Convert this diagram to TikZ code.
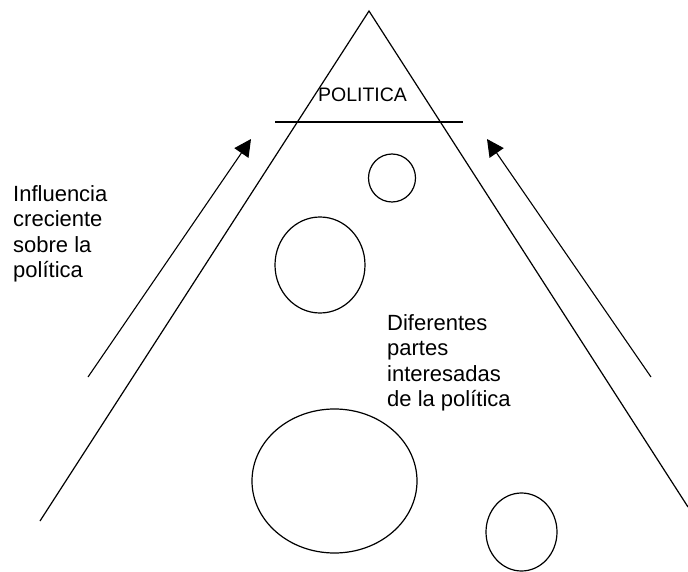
\documentclass[tikz,border=0pt]{standalone}
\usepackage{fontspec}
\setmainfont{Liberation Sans}
\usetikzlibrary{arrows.meta}
\begin{document}
\begin{tikzpicture}[x=1pt,y=-1pt,
  edge/.style={line width=1.2pt},
  blob/.style={draw,line width=1.2pt,ellipse,inner sep=0pt},
  label/.style={align=left,inner sep=0pt,anchor=north west,font=\fontsize{22}{25.5}\selectfont},
  rise/.style={line width=1.1pt,-{Triangle[length=17pt,width=17pt]}}]
\useasboundingbox (0,0) rectangle (688,572);
% pyramid
\coordinate (apex) at (369,11);
\coordinate (bl) at (40,521);
\coordinate (br) at (688,507);
\coordinate (hl) at (275,122);
\coordinate (hr) at (463,122);
\draw[edge] (bl) -- (apex) -- (br);
\draw[edge] (hl) -- (hr);
\node[inner sep=0pt,font=\fontsize{19.5}{22}\selectfont,anchor=base] (pol) at (362.5,102) {POLITICA};
% circles
\draw[edge] (392,178) ellipse [x radius=23.5, y radius=24];
\draw[edge] (320,265) ellipse [x radius=45, y radius=48];
\draw[edge] (334.5,481) ellipse [x radius=82.5, y radius=72];
\draw[edge] (521.5,532) ellipse [x radius=35.5, y radius=39];
% arrows
\coordinate (la0) at (88,377);
\coordinate (la1) at (251,139);
\coordinate (ra0) at (651,377);
\coordinate (ra1) at (487,139);
\draw[rise] (la0) -- (la1);
\draw[rise] (ra0) -- (ra1);
% texts
\node[label] (infl) at (13,185) {Influencia\\creciente\\sobre la\\política};
\node[label] (dif) at (387,314) {Diferentes\\partes\\interesadas\\de la política};
\end{tikzpicture}
\end{document}
